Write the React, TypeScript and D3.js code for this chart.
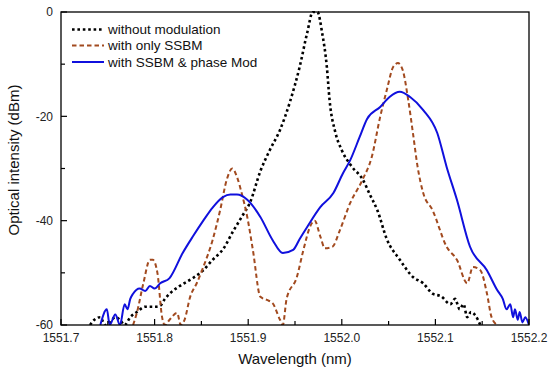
import React from "react";
import * as d3 from "d3";

const xTicks = [1551.7, 1551.8, 1551.9, 1552.0, 1552.1, 1552.2];
const yTicks = [0, -20, -40, -60];

// without modulation (black dotted)
const noModW = [1551.731, 1551.737, 1551.742, 1551.747, 1551.752, 1551.758, 1551.763, 1551.768, 1551.774, 1551.781, 1551.790, 1551.800, 1551.806, 1551.811, 1551.816, 1551.827, 1551.841, 1551.852, 1551.862, 1551.873, 1551.884, 1551.894, 1551.902, 1551.913, 1551.923, 1551.934, 1551.945, 1551.955, 1551.963, 1551.969, 1551.974, 1551.979, 1551.984, 1551.987, 1551.993, 1552.000, 1552.011, 1552.022, 1552.030, 1552.038, 1552.048, 1552.062, 1552.076, 1552.087, 1552.097, 1552.106, 1552.116, 1552.121, 1552.126, 1552.130, 1552.134, 1552.138, 1552.142, 1552.148];
const noModV = [-60, -58.8, -58.5, -60, -59.5, -58.5, -59, -60, -58.5, -57.5, -56.5, -56.5, -56.3, -55, -54, -52.5, -51, -49.5, -47.5, -45.5, -42, -39, -36.5, -30.5, -26.5, -22.6, -17, -10.5, -4, 0, 0, -4, -10.5, -17, -23, -26.5, -29.7, -32, -35, -38, -43.5, -47.5, -50.8, -52, -54, -54.5, -56, -55, -57, -56, -58.5, -57.5, -58, -60];

// with only SSBM (red dashed)
const ssbmW = [1551.777, 1551.781, 1551.788, 1551.795, 1551.798, 1551.803, 1551.808, 1551.811, 1551.816, 1551.824, 1551.828, 1551.832, 1551.838, 1551.845, 1551.852, 1551.862, 1551.870, 1551.877, 1551.883, 1551.888, 1551.893, 1551.899, 1551.905, 1551.913, 1551.920, 1551.926, 1551.934, 1551.937, 1551.941, 1551.952, 1551.959, 1551.966, 1551.971, 1551.977, 1551.982, 1551.990, 1551.998, 1552.009, 1552.022, 1552.032, 1552.041, 1552.048, 1552.055, 1552.060, 1552.065, 1552.071, 1552.076, 1552.081, 1552.087, 1552.097, 1552.112, 1552.123, 1552.134, 1552.140, 1552.148, 1552.155, 1552.160, 1552.166];
const ssbmV = [-60, -57.7, -52, -47.5, -47.5, -50, -58.5, -60, -59, -57.7, -60, -59, -54.6, -52, -48.9, -43.7, -38, -32.2, -30, -31.6, -34.7, -39.3, -45.6, -54.6, -55.2, -55.8, -59, -60, -55, -50.8, -45.6, -41.2, -40, -43, -45.3, -45, -41.8, -36.6, -32.2, -27.8, -20.1, -15, -10.5, -9.8, -11.1, -16.9, -23.2, -29.7, -34.7, -38, -45, -47.5, -52, -48.9, -49.5, -53.9, -58.5, -60];

// with SSBM & phase Mod (blue solid)
const phaseW = [1551.742, 1551.749, 1551.752, 1551.758, 1551.763, 1551.768, 1551.771, 1551.774, 1551.777, 1551.784, 1551.790, 1551.795, 1551.800, 1551.806, 1551.816, 1551.830, 1551.841, 1551.852, 1551.862, 1551.873, 1551.881, 1551.888, 1551.899, 1551.913, 1551.926, 1551.937, 1551.948, 1551.955, 1551.963, 1551.977, 1551.991, 1552.001, 1552.009, 1552.019, 1552.027, 1552.041, 1552.051, 1552.062, 1552.073, 1552.087, 1552.102, 1552.112, 1552.123, 1552.137, 1552.155, 1552.166, 1552.172, 1552.176, 1552.180, 1552.183, 1552.185, 1552.188, 1552.190, 1552.193, 1552.196, 1552.200];
const phaseV = [-60, -57, -60, -58, -60, -56, -57, -55, -54, -53, -53.5, -52.5, -53, -52, -51, -46.2, -43, -40, -37.5, -35.5, -35, -35, -36, -39.3, -43.7, -46.2, -45.6, -43.5, -41.2, -37.4, -34.7, -31, -28.4, -24, -20.5, -18.2, -16.3, -15.3, -16.3, -18.8, -23.2, -29.7, -36, -45, -49.5, -53.3, -55, -57, -56, -58.5, -57, -59, -57.5, -59.5, -58.5, -60];

const legendLabels = ["without modulation", "with only SSBM", "with SSBM & phase Mod"];

const W = 550, H = 372;
const L = 61, R = 529, T = 12, B = 325;

export default function App() {
  const x = d3.scaleLinear().domain([1551.7, 1552.2]).range([L, R]);
  const y = d3.scaleLinear().domain([-60, 0]).range([B, T]);
  const line = d3.line<[number, number]>().x(d => x(d[0])).y(d => y(d[1])).curve(d3.curveMonotoneX);
  const zip = (a: number[], b: number[]) => a.map((v, i) => [v, b[i]] as [number, number]);

  const minorX = d3.range(0, 11).map(i => 1551.7 + i * 0.05);
  const minorY = d3.range(0, 7).map(i => -60 + i * 10);
  const font = "Arial, 'Liberation Sans', sans-serif";

  const series = [
    { d: zip(noModW, noModV), stroke: "#000", width: 2.6, dash: "2.6 2.8" },
    { d: zip(ssbmW, ssbmV), stroke: "#a24a1f", width: 2, dash: "4.5 3" },
    { d: zip(phaseW, phaseV), stroke: "#1010dd", width: 2, dash: undefined },
  ];

  return (
    <svg width={W} height={H} style={{ position: "absolute", left: 0, top: 0, background: "#fff" }} fontFamily={font}>
      <rect x={0} y={0} width={W} height={H} fill="#fff" />
      <defs>
        <clipPath id="plot">
          <rect x={L} y={T - 1} width={R - L} height={B - T + 1} />
        </clipPath>
      </defs>
      <g clipPath="url(#plot)">
        {series.map((s, i) => (
          <path key={i} d={line(s.d) || ""} fill="none" stroke={s.stroke} strokeWidth={s.width} strokeDasharray={s.dash} strokeLinejoin="round" />
        ))}
      </g>
      <rect x={L} y={T} width={R - L} height={B - T} fill="none" stroke="#000" strokeWidth={1.3} />
      {minorX.map((v, i) => (
        <line key={"mx" + i} x1={x(v)} x2={x(v)} y1={B} y2={B - (i % 2 === 0 ? 6 : 4)} stroke="#000" strokeWidth={1.2} />
      ))}
      {minorY.map((v, i) => (
        <line key={"my" + i} x1={L} x2={L + (i % 2 === 0 ? 6 : 4)} y1={y(v)} y2={y(v)} stroke="#000" strokeWidth={1.2} />
      ))}
      {xTicks.map((v, i) => (
        <text key={"xt" + i} x={x(v)} y={342} fontSize={12} textAnchor="middle" fill="#222">{v.toFixed(1)}</text>
      ))}
      {yTicks.map((v, i) => (
        <text key={"yt" + i} x={53} y={y(v) + 4.3} fontSize={12} textAnchor="end" fill="#222">{v}</text>
      ))}
      <text x={295} y={364} fontSize={15} textAnchor="middle" fill="#111">Wavelength (nm)</text>
      <text transform={`translate(19,160) rotate(-90)`} fontSize={15} textAnchor="middle" fill="#111">Optical intensity (dBm)</text>
      {series.map((s, i) => {
        const ly = [29.5, 45.5, 62][i];
        return (
          <g key={"lg" + i}>
            <line x1={72} x2={104} y1={ly} y2={ly} stroke={s.stroke} strokeWidth={s.width} strokeDasharray={s.dash} />
            <text x={108} y={ly + 4.7} fontSize={13.5} fill="#111">{legendLabels[i]}</text>
          </g>
        );
      })}
    </svg>
  );
}
